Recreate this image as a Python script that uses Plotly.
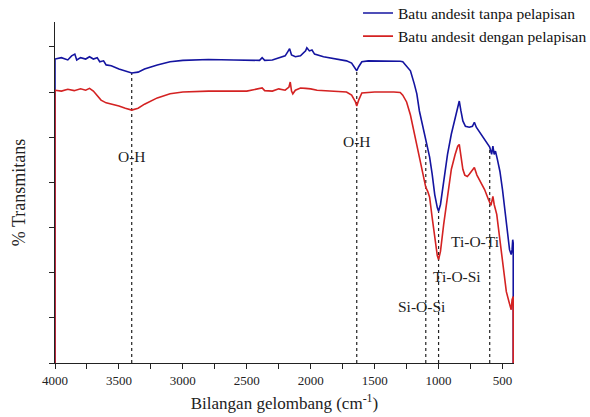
import numpy as np
import plotly.graph_objects as go

# Wavenumbers (cm^-1) and % transmittance (arbitrary units)
wn_blue = [4000, 4000, 3950, 3900, 3870, 3845, 3830, 3800, 3760, 3730, 3700, 3670, 3650, 3620, 3600,
           3560, 3500, 3450, 3400, 3350, 3300, 3200, 3100, 3000, 2800, 2600, 2400, 2380, 2360,
           2300, 2250, 2200, 2180, 2165, 2150, 2120, 2080, 2040, 2030, 2010, 1990, 1970, 1900,
           1800, 1720, 1680, 1650, 1640, 1625, 1600, 1550, 1450, 1350, 1300, 1280, 1250, 1220,
           1190, 1170, 1150, 1120, 1100, 1085, 1070, 1050, 1030, 1010, 1000, 985, 960, 930, 900,
           870, 850, 838, 825, 810, 790, 760, 735, 720, 705, 680, 650, 620, 600, 585, 575, 565,
           555, 540, 520, 500, 480, 460, 445, 432, 425, 420, 416, 416]
t_blue = [0, 67.3, 67.6, 67.1, 68.0, 68.4, 67.1, 67.6, 67.3, 67.8, 67.3, 67.6, 66.7, 66.9, 66.0,
          65.8, 65.1, 64.7, 64.2, 64.4, 65.1, 66.0, 66.7, 67.0, 67.2, 67.1, 67.0, 67.6, 67.0,
          67.1, 67.6, 68.0, 68.9, 69.6, 68.2, 67.8, 68.0, 69.1, 69.8, 69.1, 69.3, 68.4, 67.8,
          67.3, 66.9, 66.4, 65.1, 64.7, 65.6, 66.7, 66.9, 66.9, 66.9, 66.8, 66.7, 65.8, 64.7,
          61.8, 59.6, 55.8, 51.8, 48.9, 47.3, 45.6, 41.8, 37.3, 34.4, 33.6, 35.1, 40.7, 46.2, 50.7,
          54.4, 57.1, 58.0, 55.8, 53.6, 52.4, 52.2, 52.4, 53.3, 52.2, 51.1, 50.0, 48.4, 47.8, 46.2, 48.0, 46.2,
          46.9, 45.1, 42.4, 38.4, 33.6, 28.4, 25.1, 24.0, 25.1, 27.3, 26.5, 0]

wn_red = [4000, 4000, 3950, 3900, 3850, 3800, 3760, 3730, 3700, 3670, 3640, 3600, 3550, 3500, 3450,
          3400, 3350, 3300, 3200, 3100, 3000, 2800, 2500, 2380, 2360, 2300, 2250, 2200, 2170,
          2160, 2150, 2140, 2120, 2080, 2040, 2000, 1950, 1850, 1720, 1680, 1650, 1640, 1625,
          1600, 1500, 1350, 1300, 1280, 1250, 1220, 1190, 1160, 1130, 1100, 1085, 1070, 1050,
          1030, 1010, 1000, 985, 960, 930, 900, 870, 850, 838, 825, 810, 795, 775, 760, 720, 700,
          670, 640, 610, 590, 575, 565, 545, 520, 495, 470, 445, 432, 425, 418, 416, 416]
t_red = [0, 60.4, 60.2, 60.6, 60.3, 60.7, 60.4, 60.8, 60.2, 59.3, 58.2, 57.6, 57.3, 56.9, 56.4,
         56.0, 56.4, 57.3, 58.7, 59.6, 60.0, 60.2, 60.2, 60.9, 60.3, 60.2, 60.7, 60.4, 61.1,
         62.2, 60.2, 59.6, 60.4, 60.9, 60.8, 60.7, 60.4, 60.2, 60.0, 59.3, 57.8, 56.9, 58.2,
         59.8, 60.0, 60.0, 59.9, 59.3, 57.8, 54.9, 50.9, 47.1, 42.7, 38.9, 38.0, 36.7, 32.2,
         27.3, 23.8, 22.9, 24.7, 30.7, 37.3, 42.9, 46.2, 48.0, 48.4, 45.8, 42.9, 41.6, 41.3, 41.8, 43.3, 41.6,
         40.0, 38.4, 36.2, 34.9, 36.9, 35.1, 32.9, 27.3, 20.7, 15.8, 13.1, 11.8, 14.0, 14.7, 14.7, 0]

series_names = ["Batu andesit tanpa pelapisan", "Batu andesit dengan pelapisan"]

# Band assignments
band_wn = [3400, 1640, 1100, 1000, 600]
band_labels = ["O-H", "O-H", "Si-O-Si", "Ti-O-Si", "Ti-O-Ti"]
# label placement (x in cm^-1, y in transmittance units)
label_x = [3400, 1640, 1133, 859, 711]
label_y = [45.8, 49.1, 12.4, 19.1, 26.9]

x_ticks = [4000, 3500, 3000, 2500, 2000, 1500, 1000, 500]

BLUE = "#1414a0"
RED = "#d42222"
FONT = "Liberation Serif"

fig = go.Figure()
fig.add_trace(go.Scatter(x=wn_blue, y=t_blue, mode="lines", name=series_names[0],
                         line=dict(color=BLUE, width=1.6)))
fig.add_trace(go.Scatter(x=wn_red, y=t_red, mode="lines", name=series_names[1],
                         line=dict(color=RED, width=1.6)))

# dotted guide lines from the upper spectrum down to the axis
blue_sorted = np.array(sorted(zip(wn_blue[1:-1], t_blue[1:-1])))
for w in band_wn:
    top = float(np.interp(w, blue_sorted[:, 0], blue_sorted[:, 1]))
    fig.add_shape(type="line", x0=w, x1=w, y0=0, y1=top, xref="x", yref="y",
                  line=dict(color="#222222", width=1.2, dash="dot"), layer="below")

for lx, ly, txt in zip(label_x, label_y, band_labels):
    fig.add_annotation(x=lx, y=ly, text=txt, showarrow=False,
                       font=dict(family=FONT, size=15.5, color="#222222"))

fig.update_layout(
    width=590, height=417,
    margin=dict(l=55, r=76, t=22, b=54, autoexpand=False),
    paper_bgcolor="white", plot_bgcolor="white",
    font=dict(family=FONT, color="#222222"),
    showlegend=True,
    legend=dict(x=1.17, y=1.075, xanchor="right", yanchor="top",
                font=dict(family=FONT, size=15.5, color="#111111"),
                bgcolor="rgba(0,0,0,0)", tracegroupgap=0, itemwidth=30),
    xaxis=dict(range=[4000, 410], tickvals=x_ticks, ticks="outside", ticklen=5,
               tickcolor="#222222", showline=True, linecolor="#222222", linewidth=1.2,
               showgrid=False, zeroline=False, tickfont=dict(family=FONT, size=13),
               minor=dict(dtick=250, ticks="outside", ticklen=5, tickcolor="#222222"),
               title=dict(text="Bilangan gelombang (cm<sup>-1</sup>)",
                          font=dict(family=FONT, size=17), standoff=10)),
    yaxis=dict(range=[0, 75.5], dtick=10, ticks="outside", ticklen=5, tickcolor="#222222",
               showticklabels=False, showline=True, linecolor="#222222", linewidth=1.2,
               showgrid=False, zeroline=False,
               title=dict(text="% Transmitans", font=dict(family=FONT, size=18), standoff=18)),
)

fig.write_html("out.html")
